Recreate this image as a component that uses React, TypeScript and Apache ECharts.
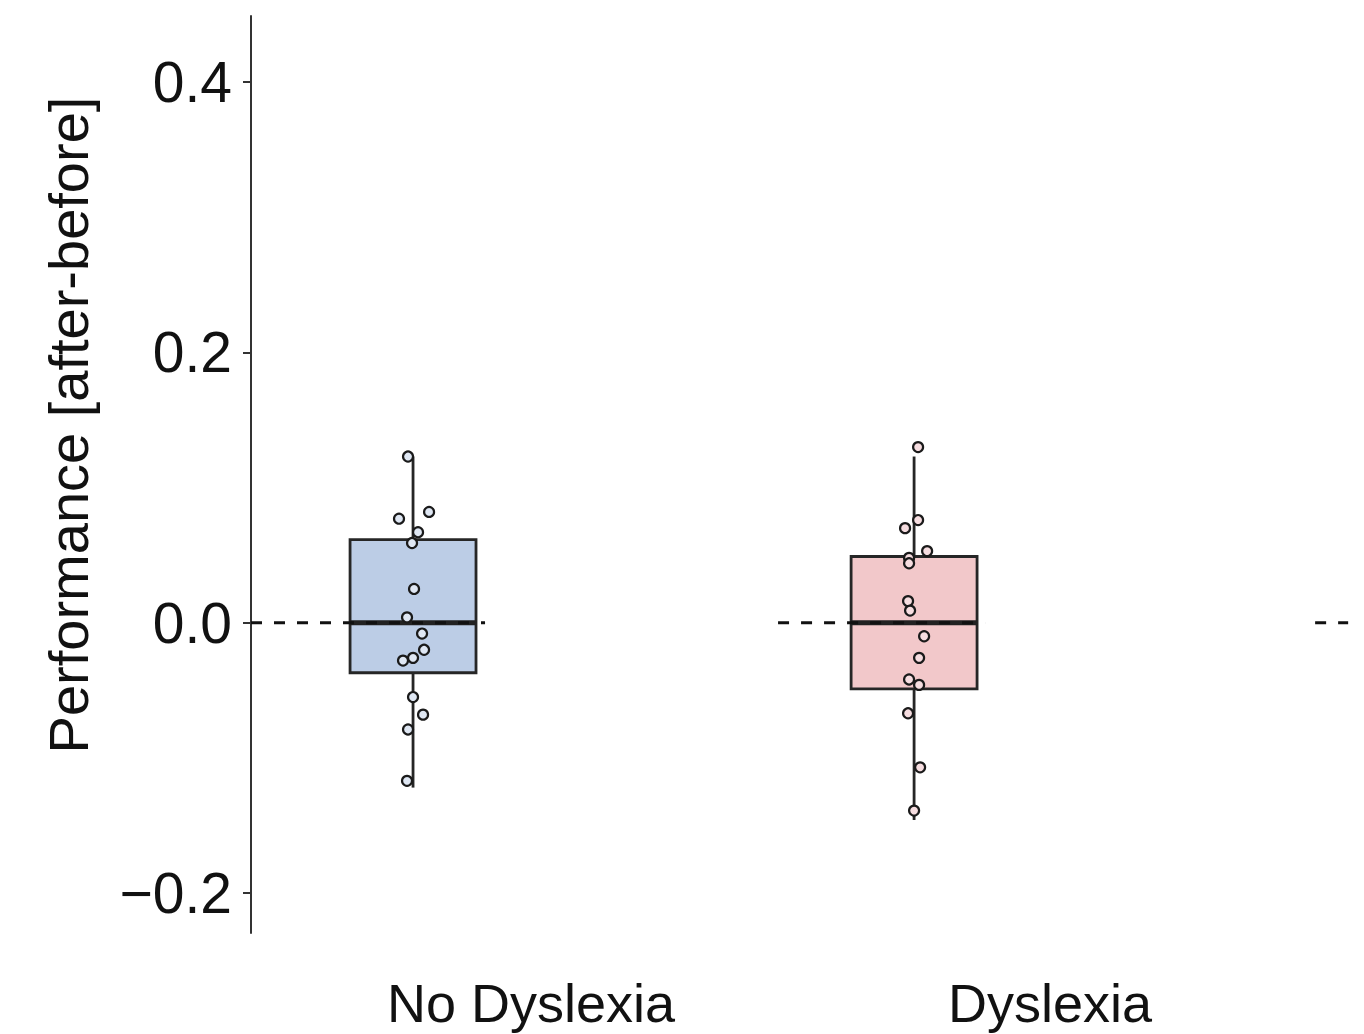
import React, { useEffect, useRef } from "react";
import * as echarts from "echarts";

// ---- data ----
const CATEGORIES = ["No Dyslexia", "Dyslexia"];
const BOX_LOW = [-0.122, -0.146];
const BOX_Q1 = [-0.037, -0.049];
const BOX_MEDIAN = [0.0, 0.0];
const BOX_Q3 = [0.0615, 0.049];
const BOX_HIGH = [0.123, 0.123];

const POINTS_NO_DYSLEXIA = [0.123, 0.077, 0.082, 0.067, 0.059, 0.025, 0.004, -0.008, -0.02, -0.026, -0.028, -0.055, -0.068, -0.079, -0.117];
const JITTER_NO_DYSLEXIA = [-0.01, -0.028, 0.032, 0.01, -0.002, 0.002, -0.012, 0.018, 0.022, 0.0, -0.02, 0.0, 0.02, -0.01, -0.012];
const POINTS_DYSLEXIA = [0.13, 0.076, 0.07, 0.053, 0.048, 0.044, 0.016, 0.009, -0.01, -0.026, -0.042, -0.046, -0.067, -0.107, -0.139];
const JITTER_DYSLEXIA = [0.008, 0.008, -0.018, 0.026, -0.01, -0.01, -0.012, -0.008, 0.02, 0.01, -0.01, 0.01, -0.012, 0.012, 0.0];

const Y_TICKS = [-0.2, 0, 0.2, 0.4];
const REFERENCE_VALUE = 0;
// dashed reference line segments (x-axis units)
const REF_SEGMENTS = [
  [0.6766, 1.1437],
  [1.7285, 2.1417],
  [2.8004, 2.8663],
];

// ---- layout / style ----
const LABEL_OFFSETS = [0.2355, 0.2715];
const BOX_HALF = 0.1257;
const X_MIN = 0.6766;
const X_MAX = 2.87;
const Y_MIN = -0.2296;
const Y_MAX = 0.449;
const BOX_FILLS = ["#bccde6", "#f2c8ca"];
const POINT_FILLS = ["#dfe7f3", "#f6dde0"];
const FONT = "'Liberation Sans', Arial, Helvetica, sans-serif";

export default function App() {
  const ref = useRef<HTMLDivElement>(null);

  useEffect(() => {
    if (!ref.current) return;
    const chart = echarts.init(ref.current, undefined, { renderer: "svg" });

    const boxData = CATEGORIES.map((_, i) => [i + 1, BOX_LOW[i], BOX_Q1[i], BOX_MEDIAN[i], BOX_Q3[i], BOX_HIGH[i]]);
    const labelValues = CATEGORIES.map((_, i) => i + 1 + LABEL_OFFSETS[i]);

    const pointSeries = [POINTS_NO_DYSLEXIA, POINTS_DYSLEXIA].map((pts, gi) => {
      const jit = gi === 0 ? JITTER_NO_DYSLEXIA : JITTER_DYSLEXIA;
      return {
        type: "scatter",
        name: CATEGORIES[gi],
        data: pts.map((v, k) => [gi + 1 + jit[k], v]),
        symbol: "circle",
        symbolSize: 10,
        itemStyle: { color: POINT_FILLS[gi], borderColor: "#1a1a1a", borderWidth: 2.2, opacity: 1 },
        z: 5,
        silent: true,
      };
    });

    const option: any = {
      animation: false,
      backgroundColor: "#ffffff",
      grid: { left: 251, right: 14, top: 16, bottom: 101, containLabel: false },
      xAxis: {
        type: "value",
        min: X_MIN,
        max: X_MAX,
        axisLine: { show: false },
        axisTick: { show: false },
        splitLine: { show: false },
        axisLabel: {
          customValues: labelValues,
          margin: 43,
          fontSize: 54,
          fontFamily: FONT,
          color: "#111",
          formatter: (v: number) => {
            const i = labelValues.findIndex((lv) => Math.abs(lv - v) < 1e-3);
            return i >= 0 ? CATEGORIES[i] : "";
          },
        },
      },
      yAxis: {
        type: "value",
        min: Y_MIN,
        max: Y_MAX,
        axisLine: { show: true, lineStyle: { color: "#333", width: 2 } },
        axisTick: { show: true, customValues: Y_TICKS, length: 8, lineStyle: { color: "#333", width: 2 } },
        splitLine: { show: false },
        axisLabel: {
          customValues: Y_TICKS,
          margin: 19,
          fontSize: 57,
          fontFamily: FONT,
          color: "#111",
          formatter: (v: number) => {
            const s = Math.abs(v).toFixed(1);
            return v < -1e-9 ? "\u2212" + s : s;
          },
        },
      },
      graphic: [
        {
          type: "text",
          x: 68,
          y: 425,
          rotation: Math.PI / 2,
          style: {
            text: "Performance [after-before]",
            fontSize: 56,
            fontFamily: FONT,
            fill: "#111",
            align: "center",
            verticalAlign: "middle",
          },
        },
      ],
      series: [
        {
          type: "custom",
          name: "boxes",
          data: boxData,
          z: 2,
          silent: true,
          renderItem: (params: any, api: any) => {
            const x = api.value(0);
            const low = api.value(1);
            const q1 = api.value(2);
            const med = api.value(3);
            const q3 = api.value(4);
            const high = api.value(5);
            const tl = api.coord([x - BOX_HALF, q3]);
            const br = api.coord([x + BOX_HALF, q1]);
            const top = api.coord([x, high]);
            const bot = api.coord([x, low]);
            const ml = api.coord([x - BOX_HALF, med]);
            const mr = api.coord([x + BOX_HALF, med]);
            const lineStyle = { stroke: "#262626", lineWidth: 2.8 };
            return {
              type: "group",
              children: [
                { type: "line", shape: { x1: top[0], y1: top[1], x2: top[0], y2: tl[1] }, style: lineStyle },
                { type: "line", shape: { x1: bot[0], y1: br[1], x2: bot[0], y2: bot[1] }, style: lineStyle },
                {
                  type: "rect",
                  shape: { x: tl[0], y: tl[1], width: br[0] - tl[0], height: br[1] - tl[1] },
                  style: { fill: BOX_FILLS[params.dataIndex], stroke: "#262626", lineWidth: 2.8 },
                },
                { type: "line", shape: { x1: ml[0], y1: ml[1], x2: mr[0], y2: mr[1] }, style: { stroke: "#222", lineWidth: 5 } },
              ],
            };
          },
        },
        {
          type: "custom",
          name: "reference",
          data: REF_SEGMENTS.map((s) => [s[0], s[1], REFERENCE_VALUE]),
          z: 3,
          silent: true,
          renderItem: (params: any, api: any) => {
            const a = api.coord([api.value(0), api.value(2)]);
            const b = api.coord([api.value(1), api.value(2)]);
            return {
              type: "line",
              shape: { x1: a[0], y1: a[1], x2: b[0], y2: b[1] },
              style: { stroke: "#111", lineWidth: 3, lineDash: [11, 12] },
            };
          },
        },
        ...pointSeries,
      ],
    };

    chart.setOption(option);
    return () => chart.dispose();
  }, []);

  return (
    <div
      ref={ref}
      style={{ position: "fixed", left: 0, top: 0, width: 1364, height: 1034, background: "#fff" }}
    />
  );
}
